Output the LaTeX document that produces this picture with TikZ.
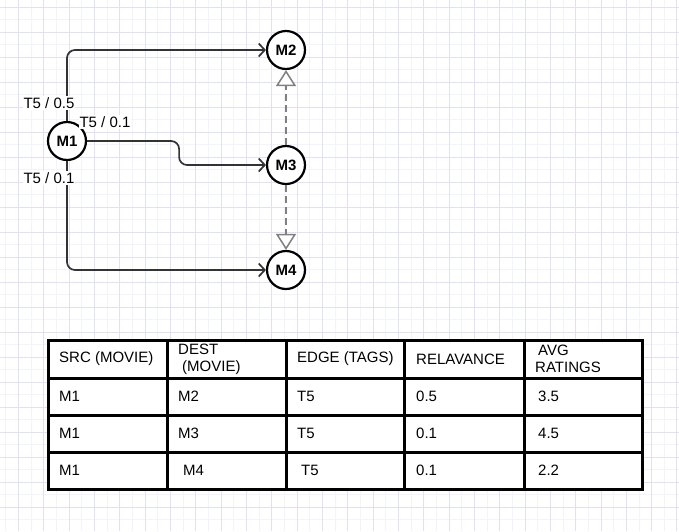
\documentclass[tikz,border=0pt]{standalone}
\usepackage{fontspec}
\setmainfont{Liberation Sans}
\usetikzlibrary{arrows.meta}
\definecolor{gridmaj}{RGB}{224,224,246}
\definecolor{gridmin}{RGB}{243,243,252}
\definecolor{edgegray}{RGB}{51,51,51}
\definecolor{dashgray}{RGB}{128,128,128}
\newcommand\diagfont{\fontsize{15}{17}\selectfont}
\tikzset{
  movie/.style={circle, draw=black, line width=2.2pt, fill=white, minimum size=38pt, inner sep=0pt, font=\diagfont\bfseries},
  link/.style={draw=edgegray, line width=1.7pt, rounded corners=8pt, -{Straight Barb[length=6pt,width=13pt,line width=1.7pt]}},
  hint/.style={draw=dashgray, line width=1.7pt, dash pattern=on 7pt off 4pt, -{Triangle[open,length=16pt,width=20pt,line width=1.5pt,fill=white]}},
  tag/.style={fill=white, inner sep=1pt, font=\diagfont},
  cell/.style={anchor=west, inner sep=0pt, align=left, font=\diagfont},
  tabline/.style={line width=3pt, line cap=rect}
}
\begin{document}
\begin{tikzpicture}[x=1pt,y=-1pt]
		\useasboundingbox (0,0) rectangle (679,531);
		\fill[white] (0,0) rectangle (679,531);
		% grid
		\foreach \i in {0,...,27} \draw[gridmin, line width=0.8pt] (5.7+\i*25.33,0) -- ++(0,531);
		\foreach \i in {0,...,21} \draw[gridmin, line width=0.8pt] (0,19.5+\i*25) -- ++(679,0);
		\foreach \i in {0,...,26} \draw[gridmaj, line width=1pt] (18.4+\i*25.33,0) -- ++(0,531);
		\foreach \i in {0,...,21} \draw[gridmaj, line width=1pt] (0,7+\i*25) -- ++(679,0);
		% movies
		\node[movie] (m1) at (67,141) {M1};
		\node[movie] (m2) at (286,50) {M2};
		\node[movie] (m3) at (286,165) {M3};
		\node[movie] (m4) at (286,270) {M4};
		% edges
		\draw[link] (m1.north) |- (m2.west);
		\draw[link] (m1.east) -- ++(92,0) |- (m3.west);
		\draw[link] (m1.south) |- (m4.west);
		\draw[hint] (m3.north) -- (m2.south);
		\draw[hint] (m3.south) -- (m4.north);
		% edge labels
		\node[tag] (t12) at (49,103) {T5 / 0.5};
		\node[tag] (t13) at (105,122) {T5 / 0.1};
		\node[tag] (t14) at (49,178) {T5 / 0.1};
		% table
		\fill[white] (48,340) rectangle (642,489);
		\draw[tabline] (48,340) rectangle (642,489);
		\foreach \x in {167,286,404,524} \draw[tabline] (\x,340) -- (\x,489);
		\foreach \y in {378,415,452} \draw[tabline] (48,\y) -- (642,\y);
		% header
		\node[cell] (hsrc) at (59,359) {SRC (MOVIE)};
		\node[cell] (hdest) at (178,359) {DEST\\\hspace*{4pt}(MOVIE)};
		\node[cell] (hedge) at (297,359) {EDGE (TAGS)};
		\node[cell] (hrel) at (416,359) {RELAVANCE};
		\node[cell] (havg) at (535,359) {\hspace*{3pt}AVG\\RATINGS};
		% row 1
		\node[cell] (src1) at (59,396) {M1};
		\node[cell] (dest1) at (178,396) {M2};
		\node[cell] (edge1) at (297,396) {T5};
		\node[cell] (rel1) at (416,396) {0.5};
		\node[cell] (avg1) at (538,396) {3.5};
		% row 2
		\node[cell] (src2) at (59,433) {M1};
		\node[cell] (dest2) at (178,433) {M3};
		\node[cell] (edge2) at (297,433) {T5};
		\node[cell] (rel2) at (416,433) {0.1};
		\node[cell] (avg2) at (538,433) {4.5};
		% row 3
		\node[cell] (src3) at (59,470) {M1};
		\node[cell] (dest3) at (183,470) {M4};
		\node[cell] (edge3) at (301,470) {T5};
		\node[cell] (rel3) at (416,470) {0.1};
		\node[cell] (avg3) at (538,470) {2.2};
\end{tikzpicture}
\end{document}
